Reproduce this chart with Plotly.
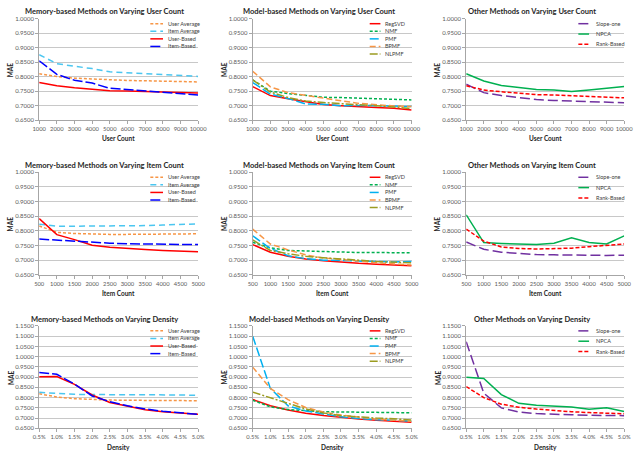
import plotly.graph_objects as go

W, H = 640, 453

# ---------------- data ----------------
user_counts = [1000, 2000, 3000, 4000, 5000, 6000, 7000, 8000, 9000, 10000]
item_counts = [500, 1000, 1500, 2000, 2500, 3000, 3500, 4000, 4500, 5000]
densities = [0.5, 1.0, 1.5, 2.0, 2.5, 3.0, 3.5, 4.0, 4.5, 5.0]
density_labels = ["0.5%", "1.0%", "1.5%", "2.0%", "2.5%", "3.0%", "3.5%", "4.0%", "4.5%", "5.0%"]

mem_names = ["User Average", "Item Average", "User-Based", "Item-Based"]
model_names = ["RegSVD", "NMF", "PMF", "BPMF", "NLPMF"]
other_names = ["Slope-one", "NPCA", "Rank-Based"]

# Memory-based, varying user count
ua_user = [0.810, 0.801, 0.795, 0.792, 0.789, 0.787, 0.786, 0.785, 0.784, 0.782]
ia_user = [0.876, 0.845, 0.836, 0.828, 0.817, 0.814, 0.810, 0.808, 0.806, 0.801]
ub_user = [0.780, 0.769, 0.762, 0.758, 0.752, 0.751, 0.749, 0.747, 0.745, 0.744]
ib_user = [0.855, 0.808, 0.788, 0.778, 0.760, 0.755, 0.750, 0.745, 0.741, 0.737]
# Model-based, varying user count
svd_user = [0.766, 0.735, 0.724, 0.714, 0.704, 0.700, 0.696, 0.694, 0.691, 0.685]
nmf_user = [0.789, 0.750, 0.742, 0.735, 0.729, 0.728, 0.726, 0.725, 0.724, 0.720]
pmf_user = [0.780, 0.740, 0.725, 0.706, 0.705, 0.700, 0.701, 0.700, 0.698, 0.697]
bpmf_user = [0.819, 0.765, 0.745, 0.735, 0.725, 0.717, 0.708, 0.703, 0.699, 0.697]
nlpmf_user = [0.789, 0.747, 0.728, 0.716, 0.711, 0.706, 0.703, 0.700, 0.695, 0.690]
# Other, varying user count
slope_user = [0.774, 0.745, 0.735, 0.727, 0.721, 0.718, 0.716, 0.714, 0.712, 0.710]
npca_user = [0.810, 0.785, 0.770, 0.763, 0.756, 0.754, 0.749, 0.754, 0.759, 0.766]
rank_user = [0.769, 0.754, 0.748, 0.744, 0.738, 0.737, 0.734, 0.732, 0.730, 0.727]

# Memory-based, varying item count
ua_item = [0.817, 0.795, 0.791, 0.789, 0.788, 0.788, 0.788, 0.788, 0.789, 0.790]
ia_item = [0.823, 0.816, 0.816, 0.816, 0.816, 0.817, 0.818, 0.820, 0.822, 0.824]
ub_item = [0.842, 0.787, 0.770, 0.751, 0.744, 0.739, 0.736, 0.733, 0.731, 0.729]
ib_item = [0.772, 0.768, 0.765, 0.760, 0.758, 0.756, 0.755, 0.754, 0.753, 0.753]
# Model-based, varying item count
svd_item = [0.753, 0.727, 0.713, 0.704, 0.698, 0.693, 0.689, 0.686, 0.684, 0.681]
nmf_item = [0.761, 0.742, 0.733, 0.731, 0.728, 0.727, 0.726, 0.726, 0.725, 0.725]
pmf_item = [0.783, 0.740, 0.715, 0.705, 0.700, 0.698, 0.696, 0.694, 0.694, 0.695]
bpmf_item = [0.806, 0.755, 0.735, 0.718, 0.707, 0.703, 0.697, 0.691, 0.686, 0.683]
nlpmf_item = [0.769, 0.733, 0.722, 0.713, 0.708, 0.705, 0.700, 0.695, 0.693, 0.691]
# Other, varying item count
slope_item = [0.762, 0.737, 0.727, 0.723, 0.719, 0.718, 0.717, 0.716, 0.716, 0.717]
npca_item = [0.855, 0.760, 0.757, 0.754, 0.753, 0.758, 0.776, 0.760, 0.755, 0.783]
rank_item = [0.806, 0.765, 0.745, 0.740, 0.738, 0.739, 0.741, 0.746, 0.750, 0.755]

# Memory-based, varying density
ua_dens = [0.819, 0.803, 0.795, 0.790, 0.788, 0.787, 0.786, 0.786, 0.785, 0.785]
ia_dens = [0.826, 0.820, 0.816, 0.815, 0.815, 0.815, 0.815, 0.814, 0.813, 0.811]
ub_dens = [0.902, 0.903, 0.865, 0.813, 0.776, 0.757, 0.741, 0.731, 0.725, 0.719]
ib_dens = [0.923, 0.914, 0.866, 0.808, 0.780, 0.760, 0.745, 0.733, 0.726, 0.718]
# Model-based, varying density
svd_dens = [0.791, 0.760, 0.740, 0.724, 0.713, 0.703, 0.695, 0.690, 0.686, 0.680]
nmf_dens = [0.787, 0.755, 0.742, 0.735, 0.731, 0.730, 0.729, 0.728, 0.727, 0.726]
pmf_dens = [1.100, 0.845, 0.760, 0.735, 0.720, 0.706, 0.698, 0.692, 0.690, 0.685]
bpmf_dens = [0.949, 0.845, 0.790, 0.752, 0.730, 0.715, 0.705, 0.695, 0.690, 0.685]
nlpmf_dens = [0.827, 0.798, 0.772, 0.745, 0.725, 0.712, 0.705, 0.700, 0.697, 0.690]
# Other, varying density
slope_dens = [1.073, 0.822, 0.750, 0.730, 0.722, 0.718, 0.716, 0.714, 0.714, 0.712]
npca_dens = [0.899, 0.894, 0.815, 0.772, 0.763, 0.757, 0.754, 0.743, 0.750, 0.732]
rank_dens = [0.854, 0.800, 0.768, 0.753, 0.744, 0.737, 0.731, 0.727, 0.723, 0.721]

# ---------------- styles ----------------
STY = {
    "User Average": dict(color="#F79646", dash="3px,2px", width=1.5),
    "Item Average": dict(color="#4BC6F0", dash="6px,4px", width=1.5),
    "User-Based": dict(color="#FF0000", dash="solid", width=1.5),
    "Item-Based": dict(color="#0000FF", dash="10px,3px", width=1.5),
    "RegSVD": dict(color="#FF0000", dash="solid", width=1.5),
    "NMF": dict(color="#00B050", dash="3px,2px", width=1.5),
    "PMF": dict(color="#00B0F0", dash="9px,3px", width=1.5),
    "BPMF": dict(color="#F79646", dash="6px,3px", width=1.5),
    "NLPMF": dict(color="#9C9C20", dash="8px,2px,2px,2px", width=1.5),
    "Slope-one": dict(color="#7030A0", dash="10px,4px", width=1.5),
    "NPCA": dict(color="#00B050", dash="solid", width=1.5),
    "Rank-Based": dict(color="#FF0000", dash="4px,2px", width=1.5),
}

FONT = "Lato"
TICKC = "#595959"

col_x = [(33, 196), (252, 415), (471, 633)]
row_y = [(15, 118), (171, 275), (327, 431)]

panels = [
    ("Memory-based Methods on Varying User Count", "User Count", user_counts, None,
     mem_names, [ua_user, ia_user, ub_user, ib_user], (0.65, 1.0)),
    ("Model-based Methods on Varying User Count", "User Count", user_counts, None,
     model_names, [svd_user, nmf_user, pmf_user, bpmf_user, nlpmf_user], (0.65, 1.0)),
    ("Other Methods on Varying User Count", "User Count", user_counts, None,
     other_names, [slope_user, npca_user, rank_user], (0.65, 1.0)),
    ("Memory-based Methods on Varying Item Count", "Item Count", item_counts, None,
     mem_names, [ua_item, ia_item, ub_item, ib_item], (0.65, 1.0)),
    ("Model-based Methods on Varying Item Count", "Item Count", item_counts, None,
     model_names, [svd_item, nmf_item, pmf_item, bpmf_item, nlpmf_item], (0.65, 1.0)),
    ("Other Methods on Varying Item Count", "Item Count", item_counts, None,
     other_names, [slope_item, npca_item, rank_item], (0.65, 1.0)),
    ("Memory-based Methods on Varying Density", "Density", densities, density_labels,
     mem_names, [ua_dens, ia_dens, ub_dens, ib_dens], (0.65, 1.15)),
    ("Model-based Methods on Varying Density", "Density", densities, density_labels,
     model_names, [svd_dens, nmf_dens, pmf_dens, bpmf_dens, nlpmf_dens], (0.65, 1.15)),
    ("Other Methods on Varying Density", "Density", densities, density_labels,
     other_names, [slope_dens, npca_dens, rank_dens], (0.65, 1.15)),
]

fig = go.Figure()
layout = dict(
    width=W, height=H, margin=dict(l=0, r=0, t=0, b=0),
    paper_bgcolor="white", plot_bgcolor="white", showlegend=False,
    font=dict(family=FONT, color=TICKC, size=6),
)
annotations = []
shapes = []

def px_x(v):
    return v / W

def px_y(v):
    return 1 - v / H

# legend geometry: line start, line end, text start (pixels)
leg_line = {0: (147, 160, 163), 1: (372, 383, 386), 2: (586, 597, 602)}

for k, (title, xtitle, xs, xlabels, names, series, yr) in enumerate(panels):
    r, c = divmod(k, 3)
    idx = k + 1
    xa = "x" if idx == 1 else f"x{idx}"
    ya = "y" if idx == 1 else f"y{idx}"
    x0, x1 = col_x[c]
    y0, y1 = row_y[r]
    for name, vals in zip(names, series):
        s = STY[name]
        fig.add_trace(go.Scatter(
            x=xs, y=vals, mode="lines", name=name, xaxis=xa, yaxis=ya,
            line=dict(color=s["color"], dash=s["dash"], width=s["width"]),
            hoverinfo="skip",
        ))
    xkey = "xaxis" if idx == 1 else f"xaxis{idx}"
    ykey = "yaxis" if idx == 1 else f"yaxis{idx}"
    xaxis = dict(
        domain=[px_x(x0), px_x(x1)], anchor=ya, range=[xs[0], xs[-1]],
        tickvals=xs, ticktext=xlabels if xlabels else [str(v) for v in xs],
        tickangle=0,
        showgrid=False, zeroline=False, showline=True, linecolor="#A6A6A6",
        linewidth=1, ticks="outside", ticklen=3, tickcolor="#A6A6A6",
        tickfont=dict(size=5.8, color=TICKC, family=FONT), fixedrange=True,
    )
    n_ticks = int(round((yr[1] - yr[0]) / 0.05)) + 1
    yvals = [round(yr[0] + 0.05 * i, 2) for i in range(n_ticks)]
    yaxis = dict(
        domain=[px_y(y1), px_y(y0)], anchor=xa, range=[yr[0], yr[1]],
        tickvals=yvals, tickformat=".4f",
        showgrid=True, gridcolor="#C8C8C8", gridwidth=1, zeroline=False,
        showline=True, linecolor="#A6A6A6", linewidth=1,
        ticks="outside", ticklen=3, tickcolor="#A6A6A6",
        tickfont=dict(size=6, color=TICKC, family=FONT), fixedrange=True,
    )
    layout[xkey] = xaxis
    layout[ykey] = yaxis

    # title
    annotations.append(dict(
        text=f"<b>{title}</b>", x=px_x((x0 + x1) / 2 - 14), y=px_y(y0 - 7),
        xref="paper", yref="paper", showarrow=False, xanchor="center", yanchor="middle",
        font=dict(size=7.5, color="#262626", family=FONT),
    ))
    # x title
    annotations.append(dict(
        text=f"<b>{xtitle}</b>", x=px_x((x0 + x1) / 2), y=px_y(y1 + 19),
        xref="paper", yref="paper", showarrow=False, xanchor="center", yanchor="middle",
        font=dict(size=6.5, color="#262626", family=FONT),
    ))
    # y title
    annotations.append(dict(
        text="<b>MAE</b>", x=px_x(x0 - 29), y=px_y((y0 + y1) / 2),
        xref="paper", yref="paper", showarrow=False, xanchor="center", yanchor="middle",
        textangle=-90, font=dict(size=6.5, color="#262626", family=FONT),
    ))
    # legend
    lx0, lx1, tx = leg_line[c]
    step = 7.7 if len(names) > 3 else 10.5
    for j, name in enumerate(names):
        s = STY[name]
        yy = y0 + 5 + j * step
        shapes.append(dict(
            type="line", xref="paper", yref="paper",
            x0=px_x(lx0), x1=px_x(lx1), y0=px_y(yy), y1=px_y(yy),
            line=dict(color=s["color"], dash=s["dash"], width=1.5),
        ))
        annotations.append(dict(
            text=name, x=px_x(tx), y=px_y(yy), xref="paper", yref="paper",
            showarrow=False, xanchor="left", yanchor="middle",
            font=dict(size=5.5, color="#404040", family=FONT),
        ))

layout["annotations"] = annotations
layout["shapes"] = shapes
fig.update_layout(**layout)
fig.write_html("out.html")
